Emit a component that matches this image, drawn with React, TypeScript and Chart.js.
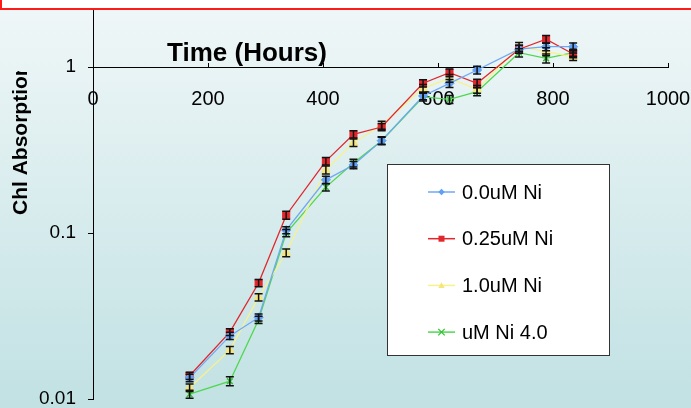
import React, { useEffect, useRef } from "react";
import { Chart, registerables } from "chart.js";

Chart.register(...registerables);

// ---- data ----
const hours = [168, 238, 288, 336, 405, 453, 502, 574, 620, 668, 741, 788, 835];
const seriesNames = ["0.0uM Ni", "0.25uM Ni", "1.0uM Ni", "uM Ni 4.0"];
const ni00 = [0.0134, 0.024, 0.031, 0.104, 0.209, 0.257, 0.36, 0.669, 0.797, 0.959, 1.28, 1.325, 1.325];
const ni025 = [0.0138, 0.0253, 0.05, 0.128, 0.271, 0.393, 0.435, 0.798, 0.924, 0.798, 1.28, 1.47, 1.197];
const ni10 = [0.0117, 0.0197, 0.041, 0.076, 0.24, 0.35, 0.447, 0.744, 0.855, 0.734, 1.325, 1.237, 1.153];
const ni40 = [0.0107, 0.0128, 0.03, 0.1, 0.189, 0.264, 0.36, 0.66, 0.638, 0.71, 1.22, 1.128, 1.22];
const err00 = [0.0007, 0.0012, 0.0015, 0.005, 0.011, 0.013, 0.018, 0.035, 0.045, 0.05, 0.07, 0.07, 0.07];
const err025 = [0.0007, 0.0012, 0.0025, 0.007, 0.014, 0.02, 0.022, 0.04, 0.05, 0.045, 0.07, 0.08, 0.06];
const err10 = [0.0006, 0.001, 0.002, 0.004, 0.013, 0.018, 0.025, 0.04, 0.045, 0.04, 0.08, 0.07, 0.06];
const err40 = [0.0006, 0.0008, 0.0015, 0.005, 0.01, 0.014, 0.02, 0.035, 0.035, 0.04, 0.07, 0.07, 0.06];
const xTicks = [0, 200, 400, 600, 800, 1000];
const yTicks = [0.01, 0.1, 1];
const xTitle = "Time (Hours)";
const yTitle = "Chl Absorption";

const seriesValues = [ni00, ni025, ni10, ni40];
const seriesErrors = [err00, err025, err10, err40];
const lineColors = ["#6fa8f5", "#e1262c", "#f7f28e", "#4fd84f"];
const pointColors = ["#5f9ff5", "#e1262c", "#f5e67a", "#2fbf2f"];
const pointStyles = ["rectRot", "rect", "triangle", "crossRot"];
const pointRadii = [4.5, 5, 5, 4];

const FONT = "'Liberation Sans', Arial, sans-serif";

function drawMarker(ctx: CanvasRenderingContext2D, style: string, x: number, y: number, r: number, color: string) {
  ctx.save();
  ctx.fillStyle = color;
  ctx.strokeStyle = color;
  ctx.lineWidth = 1.2;
  ctx.beginPath();
  if (style === "rectRot") {
    ctx.moveTo(x, y - r); ctx.lineTo(x + r, y); ctx.lineTo(x, y + r); ctx.lineTo(x - r, y); ctx.closePath(); ctx.fill();
  } else if (style === "rect") {
    ctx.rect(x - r, y - r, 2 * r, 2 * r); ctx.fill();
  } else if (style === "triangle") {
    ctx.moveTo(x, y - r); ctx.lineTo(x + r, y + r * 0.8); ctx.lineTo(x - r, y + r * 0.8); ctx.closePath(); ctx.fill();
  } else {
    ctx.moveTo(x - r, y - r); ctx.lineTo(x + r, y + r); ctx.moveTo(x + r, y - r); ctx.lineTo(x - r, y + r); ctx.stroke();
  }
  ctx.restore();
}

const bgPlugin = {
  id: "bgPlugin",
  beforeDraw(chart: any) {
    const { ctx, width, height } = chart;
    const g = ctx.createLinearGradient(0, 0, 0, height);
    g.addColorStop(0, "#f0f7f8");
    g.addColorStop(1, "#c1e1e3");
    ctx.save();
    ctx.fillStyle = g;
    ctx.fillRect(0, 0, width, height);
    ctx.restore();
  },
};

const errorBarPlugin = {
  id: "errorBarPlugin",
  afterDatasetsDraw(chart: any) {
    const { ctx } = chart;
    const xs = chart.scales.x;
    const ys = chart.scales.y;
    ctx.save();
    ctx.strokeStyle = "#111";
    ctx.lineWidth = 1.5;
    seriesValues.forEach((vals, d) => {
      vals.forEach((v, i) => {
        const e = seriesErrors[d][i];
        const x = xs.getPixelForValue(hours[i]);
        const yHi = ys.getPixelForValue(v + e);
        const yLo = ys.getPixelForValue(v - e);
        ctx.beginPath();
        ctx.moveTo(x, yHi); ctx.lineTo(x, yLo);
        ctx.moveTo(x - 4, yHi); ctx.lineTo(x + 4, yHi);
        ctx.moveTo(x - 4, yLo); ctx.lineTo(x + 4, yLo);
        ctx.stroke();
      });
    });
    ctx.restore();
  },
};

const overlayPlugin = {
  id: "overlayPlugin",
  afterDraw(chart: any) {
    const { ctx, width } = chart;
    ctx.save();
    // x title
    ctx.fillStyle = "#000";
    ctx.font = `bold 26px ${FONT}`;
    ctx.textAlign = "center";
    ctx.textBaseline = "alphabetic";
    ctx.fillText(xTitle, 247, 61);
    // y title (clipped)
    ctx.save();
    ctx.beginPath();
    ctx.rect(0, 71, 60, 340);
    ctx.clip();
    ctx.translate(21, 215);
    ctx.rotate(-Math.PI / 2);
    ctx.font = `bold 21px ${FONT}`;
    ctx.textAlign = "left";
    ctx.textBaseline = "middle";
    ctx.fillText(yTitle, 0, 0);
    ctx.restore();
    // legend
    const lx = 387.5, ly = 164.5, lw = 222, lh = 191;
    ctx.fillStyle = "#fff";
    ctx.fillRect(lx, ly, lw, lh);
    ctx.strokeStyle = "#333";
    ctx.lineWidth = 1;
    ctx.strokeRect(lx, ly, lw, lh);
    seriesNames.forEach((name, i) => {
      const y = 192 + i * 46.7;
      ctx.strokeStyle = lineColors[i];
      ctx.lineWidth = 1.5;
      ctx.beginPath();
      ctx.moveTo(428, y); ctx.lineTo(455, y);
      ctx.stroke();
      drawMarker(ctx, pointStyles[i], 441.5, y, pointStyles[i] === "rect" ? 3 : 3.2, pointColors[i]);
      ctx.fillStyle = "#000";
      ctx.font = `20px ${FONT}`;
      ctx.textAlign = "left";
      ctx.textBaseline = "middle";
      ctx.fillText(name, 462, y + 1);
    });
    // red box at top
    ctx.fillStyle = "#fff";
    ctx.fillRect(0, 0, width, 9);
    ctx.strokeStyle = "#ff1a1a";
    ctx.lineWidth = 2;
    ctx.strokeRect(1, -5, width + 10, 14);
    ctx.restore();
  },
};

export default function App() {
  const ref = useRef<HTMLCanvasElement | null>(null);
  useEffect(() => {
    if (!ref.current) return;
    const datasets = seriesNames.map((name, d) => ({
      label: name,
      data: hours.map((h, i) => ({ x: h, y: seriesValues[d][i] })),
      borderColor: lineColors[d],
      backgroundColor: pointColors[d],
      pointBackgroundColor: pointColors[d],
      pointBorderColor: pointColors[d],
      pointStyle: pointStyles[d],
      pointRadius: pointRadii[d],
      pointBorderWidth: d === 3 ? 1.5 : 1,
      borderWidth: 1.3,
      tension: 0,
      order: d,
    }));
    const chart = new Chart(ref.current, {
      type: "line",
      data: { datasets },
      plugins: [bgPlugin, errorBarPlugin, overlayPlugin],
      options: {
        animation: false,
        responsive: false,
        devicePixelRatio: 1,
        layout: { autoPadding: false, padding: { left: 0, top: 0, right: 23, bottom: 9 } },
        plugins: { legend: { display: false }, tooltip: { enabled: false } },
        scales: {
          x: {
            type: "linear",
            min: 0,
            max: 1000,
            position: { y: 1 } as any,
            afterFit: (s: any) => {
              s.height = 0;
              s.paddingLeft = 0; s.paddingRight = 0; s.paddingTop = 0; s.paddingBottom = 0;
            },
            afterBuildTicks: (s: any) => { s.ticks = xTicks.map((v) => ({ value: v })); },
            grid: { drawOnChartArea: false, drawTicks: true, tickLength: -5, color: "#000", tickColor: "#000", lineWidth: 1 },
            border: { display: true, color: "#000", width: 1 },
            ticks: { padding: 25, font: { size: 20, family: FONT }, color: "#000", maxRotation: 0, autoSkip: false, callback: (v: any) => String(v) },
          },
          y: {
            type: "logarithmic",
            min: 0.01,
            max: Math.pow(10, 67 / 166),
            afterFit: (s: any) => {
              s.width = 93;
              s.paddingLeft = 0; s.paddingRight = 0; s.paddingTop = 0; s.paddingBottom = 0;
            },
            afterBuildTicks: (s: any) => { s.ticks = yTicks.map((v) => ({ value: v })); },
            grid: { drawOnChartArea: false, drawTicks: true, tickLength: 5, color: "#000", tickColor: "#000" },
            border: { display: true, color: "#000", width: 1 },
            ticks: { padding: 12, font: { size: 19, family: FONT }, color: "#000", autoSkip: false, callback: (v: any) => String(v) },
          },
        },
      } as any,
    });
    return () => chart.destroy();
  }, []);
  return (
    <div style={{ position: "fixed", left: 0, top: 0, width: 691, height: 408 }}>
      <canvas ref={ref} width={691} height={408} style={{ width: 691, height: 408, display: "block" }} />
    </div>
  );
}
